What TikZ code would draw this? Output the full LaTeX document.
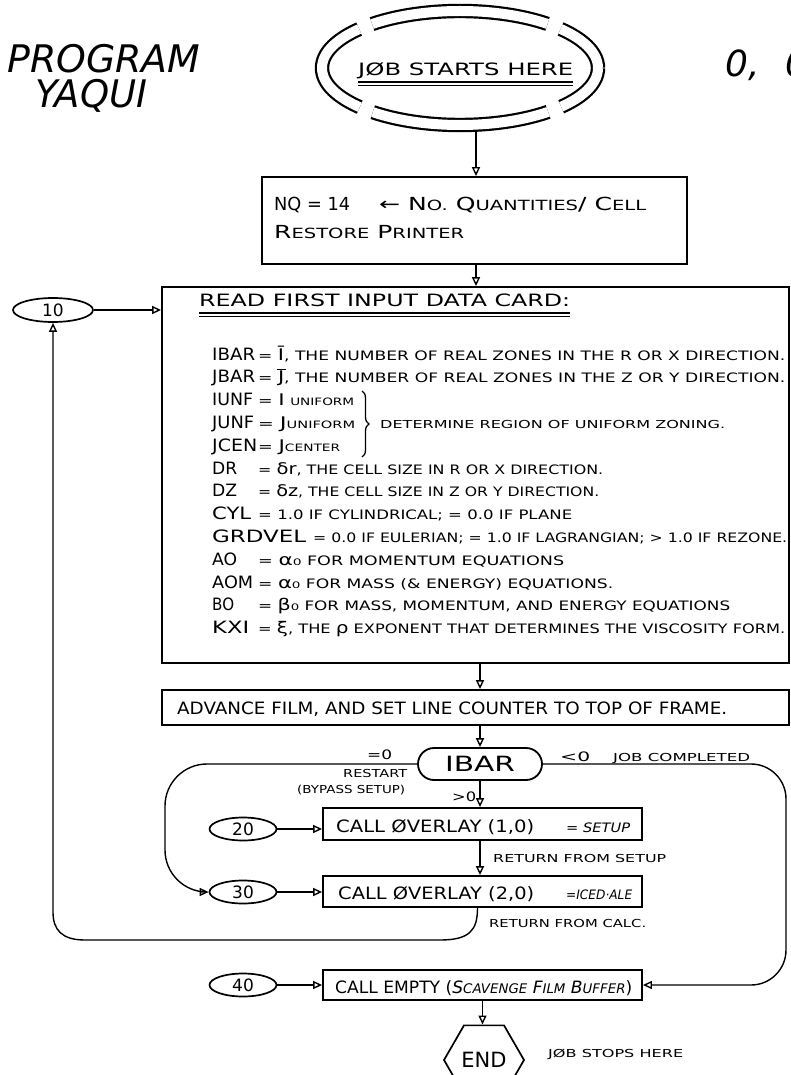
\documentclass[tikz,border=0pt]{standalone}
\usepackage{fontspec}
\setmainfont{DejaVu Sans}
\usepackage{graphicx}
\usetikzlibrary{arrows.meta,shapes.geometric,decorations.pathreplacing}
\newcommand\fitw[2]{\resizebox{#1pt}{\height}{#2}}
\newcommand\lo[1]{\scalebox{0.78}{#1}}
\newcommand\hwB[1]{{\fontsize{16}{18}\selectfont #1}}
\newcommand\barJ{\ooalign{J\cr\hidewidth\raisebox{0.82em}{\rule{0.42em}{0.07em}}\hidewidth\cr}}
\tikzset{
  boxs/.style={draw, line width=1.8pt, inner sep=0pt},
  oval/.style={draw, ellipse, line width=1.7pt, minimum width=67pt, minimum height=23pt, inner sep=0pt, font=\fontsize{17}{20}\selectfont},
  conn/.style={line width=1.4pt, -{Triangle[open, length=9pt, width=8pt]}},
  big/.style={anchor=base west, inner sep=0pt, font=\fontsize{17}{20}\selectfont},
  mid/.style={anchor=base west, inner sep=0pt, font=\fontsize{13}{15}\selectfont},
  small/.style={anchor=base west, inner sep=0pt, font=\fontsize{11}{13}\selectfont},
  ttl/.style={anchor=base west, inner sep=0pt, font=\fontsize{38}{42}\selectfont\itshape},
}
\begin{document}
\begin{tikzpicture}[x=1pt,y=-1pt]
\useasboundingbox (0,0) rectangle (790,1075);
% titles
\node[ttl] (tprog) at (7,73) {\fitw{193}{PROGRAM}};
\node[ttl] (tyaqui) at (35,108) {\fitw{112}{YAQUI}};
\node[ttl, font=\fontsize{36}{40}\selectfont\itshape] (tzero) at (725,77) {0,\hspace{26pt}0};
% start
\node[draw, ellipse, line width=2.2pt, double, double distance=10pt, minimum width=276pt, minimum height=114pt,
      dash pattern=on 178pt off 14pt on 114pt off 14pt, dash phase=249pt] (start) at (460,68) {};
\node[big] (jstart) at (358,76) {\fitw{215}{JØB STARTS HERE}};
\draw[line width=1.5pt] ([yshift=-6pt]jstart.base west) -- ([yshift=-6pt]jstart.base east);
\draw[line width=0.7pt] ([yshift=-9pt]jstart.base west) -- ([yshift=-9pt]jstart.base east);
% NQ box
\node[boxs, minimum width=425pt, minimum height=87pt] (nq) at (474.5,220.5) {};
\node[big, font=\fontsize{18}{20}\selectfont] (nq1) at (274,211) {\fitw{76}{NQ = 14}};
\node[big, font=\fontsize{18}{20}\selectfont] (nq2) at (379,211) {\fitw{267}{← N\lo{O.} Q\lo{UANTITIES}/ C\lo{ELL}}};
\node[big, font=\fontsize{18}{20}\selectfont] (nq3) at (274,239) {\fitw{190}{R\lo{ESTORE} P\lo{RINTER}}};
% card box
\node[boxs, minimum width=627pt, minimum height=376pt] (card) at (475.5,475) {};
\node[big] (read) at (199,306) {\fitw{371}{READ FIRST INPUT DATA CARD:}};
\draw[line width=1.6pt] ([yshift=-7pt]read.base west) -- ([yshift=-7pt]read.base east);
\draw[line width=0.8pt] ([yshift=-10.5pt]read.base west) -- ([yshift=-10.5pt]read.base east);
% rows
\node[big] (n0) at (212,360.0) {\fitw{43}{IBAR}};
\node[mid] (v0) at (258,360.0) {\fitw{527}{= \hwB{Ī}, THE NUMBER OF REAL ZONES IN THE R OR X DIRECTION.}};
\node[big] (n1) at (212,382.8) {\fitw{43}{JBAR}};
\node[mid] (v1) at (258,382.8) {\fitw{527}{= \hwB{\barJ}, THE NUMBER OF REAL ZONES IN THE Z OR Y DIRECTION.}};
\node[big] (n2) at (212,405.6) {\fitw{41}{IUNF}};
\node[mid] (v2) at (258,405.6) {\fitw{96}{= \hwB{I} \lo{UNIFORM}}};
\node[big] (n3) at (212,428.4) {\fitw{42}{JUNF}};
\node[mid] (v3) at (258,428.4) {\fitw{97}{= \hwB{J}\lo{UNIFORM}}};
\node[big] (n4) at (212,451.2) {\fitw{45}{JCEN}};
\node[mid] (v4) at (258,451.2) {\fitw{82}{= \hwB{J}\lo{CENTER}}};
\draw[line width=1.3pt, decorate, decoration={brace, amplitude=7pt}] (362,391) -- (362,457);
\node[small] (det) at (380,428.4) {\fitw{345}{DETERMINE REGION OF UNIFORM ZONING.}};
\node[big] (n5) at (212,474.0) {\fitw{25}{DR}};
\node[mid] (v5) at (258,474.0) {\fitw{345}{= \hwB{δr}, THE CELL SIZE IN R OR X DIRECTION.}};
\node[big] (n6) at (212,496.8) {\fitw{25}{DZ}};
\node[mid] (v6) at (258,496.8) {\fitw{341}{= \hwB{δz}, THE CELL SIZE IN Z OR Y DIRECTION.}};
\node[big] (n7) at (212,519.6) {\fitw{39}{CYL}};
\node[mid] (v7) at (258,519.6) {\fitw{314}{= 1.0 IF CYLINDRICAL; = 0.0 IF PLANE}};
\node[big] (n8) at (212,542.4) {\fitw{94}{GRDVEL}};
\node[mid] (v8) at (313,542.4) {\fitw{474}{= 0.0 IF EULERIAN; = 1.0 IF LAGRANGIAN; > 1.0 IF REZONE.}};
\node[big] (n9) at (212,565.2) {\fitw{25}{AO}};
\node[mid] (v9) at (258,565.2) {\fitw{306}{= \hwB{α₀} FOR MOMENTUM EQUATIONS}};
\node[big] (n10) at (212,588.0) {\fitw{41}{AOM}};
\node[mid] (v10) at (258,588.0) {\fitw{355}{= \hwB{α₀} FOR MASS (\& ENERGY) EQUATIONS.}};
\node[big] (n11) at (212,610.8) {\fitw{22}{BO}};
\node[mid] (v11) at (258,610.8) {\fitw{472}{= \hwB{β₀} FOR MASS, MOMENTUM, AND ENERGY EQUATIONS}};
\node[big] (n12) at (212,633.6) {\fitw{37}{KXI}};
\node[mid] (v12) at (258,633.6) {\fitw{527}{= \hwB{ξ}, THE \hwB{ρ} EXPONENT THAT DETERMINES THE VISCOSITY FORM.}};
% oval 10
\node[oval, minimum width=80pt, minimum height=24pt] (o10) at (53,310) {10};
% advance
\node[boxs, minimum width=627pt, minimum height=35pt] (adv) at (475.5,707.5) {};
\node[big] (advt) at (177,714) {\fitw{550}{ADVANCE FILM, AND SET LINE COUNTER TO TOP OF FRAME.}};
% IBAR
\node[boxs, rounded corners=16pt, minimum width=124pt, minimum height=32pt, font=\fontsize{21}{24}\selectfont] (ibar) at (480,764) {\fitw{70}{IBAR}};
% overlay 1
\node[boxs, minimum width=319pt, minimum height=32pt] (ov1) at (482.5,824) {};
\node[big] (ov1a) at (336,832) {\fitw{198}{CALL ØVERLAY (1,0)}};
\node[mid] (ov1b) at (566,832) {\fitw{64}{= \textit{SETUP}}};
\node[oval] (o20) at (243,829) {20};
% overlay 2
\node[boxs, minimum width=319pt, minimum height=31pt] (ov2) at (482.5,891.5) {};
\node[big] (ov2a) at (338,899) {\fitw{196}{CALL ØVERLAY (2,0)}};
\node[mid] (ov2b) at (566,899) {\fitw{66}{=\textit{ICED·ALE}}};
\node[oval] (o30) at (243,892) {30};
% empty
\node[boxs, minimum width=319pt, minimum height=30pt] (empty) at (482.5,985) {};
\node[big] (emt) at (335,993) {\fitw{297}{CALL EMPTY (\textit{S\lo{CAVENGE} F\lo{ILM} B\lo{UFFER}})}};
\node[oval] (o40) at (243,985) {40};
% end
\node[draw, regular polygon, regular polygon sides=6, minimum size=80pt, inner sep=0pt, line width=1.7pt, font=\fontsize{21}{24}\selectfont] (endn) at (484,1060) {END};
\node[small] (stops) at (548,1057) {\fitw{135}{JØB STOPS HERE}};
% labels
\node[mid] (leq) at (367,759) {\fitw{25}{=0}};
\node[small] (lrestart) at (343,777) {\fitw{64}{RESTART}};
\node[small] (lbypass) at (297,793) {\fitw{108}{(BYPASS SETUP)}};
\node[mid] (lgt) at (452,801) {\fitw{24}{>0}};
\node[mid] (llt) at (560,761) {\fitw{30}{<0}};
\node[small] (ljob) at (613,761) {\fitw{137}{JOB COMPLETED}};
\node[small] (lretsetup) at (493,862) {\fitw{173}{RETURN FROM SETUP}};
\node[small] (lretcalc) at (489,927) {\fitw{157}{RETURN FROM CALC.}};
% connectors
\draw[conn] ([xshift=16pt,yshift=-6pt]start.south) -- ([xshift=1.5pt]nq.north);
\draw[conn] ([xshift=1.5pt]nq.south) -- ([xshift=1.5pt]nq.south |- card.north);
\draw[conn] (o10.east) -- (o10.east -| card.west);
\draw[conn] ([xshift=4.5pt]card.south) -- ([xshift=4.5pt]adv.north);
\draw[conn] ([xshift=4.5pt]adv.south) -- (ibar.north);
\draw[conn] (ibar.south) -- (ibar.south |- ov1.north);
\draw[conn] (ibar.south |- ov1.south) -- (ibar.south |- ov2.north);
\draw[conn] (o20.east) -- (o20.east -| ov1.west);
\draw[conn] (o30.east) -- (o30.east -| ov2.west);
\draw[conn] (o40.east) -- (o40.east -| empty.west);
\draw[conn] (empty.south) -- (empty.south |- endn.north);
\draw[conn, rounded corners=42pt] (ibar.west) -- (165,764) -- (165,892) -- (o30.west);
\draw[conn, rounded corners=35pt] (ibar.east) -- (786,764) -- (786,985) -- (empty.east);
\draw[conn] ([xshift=-5pt]ov2.south) .. controls +(0,22) and +(30,0) .. (440,940) -- (85,940) .. controls (62,940) and (53,930) .. (53,912) -- (o10.south);
\end{tikzpicture}
\end{document}
